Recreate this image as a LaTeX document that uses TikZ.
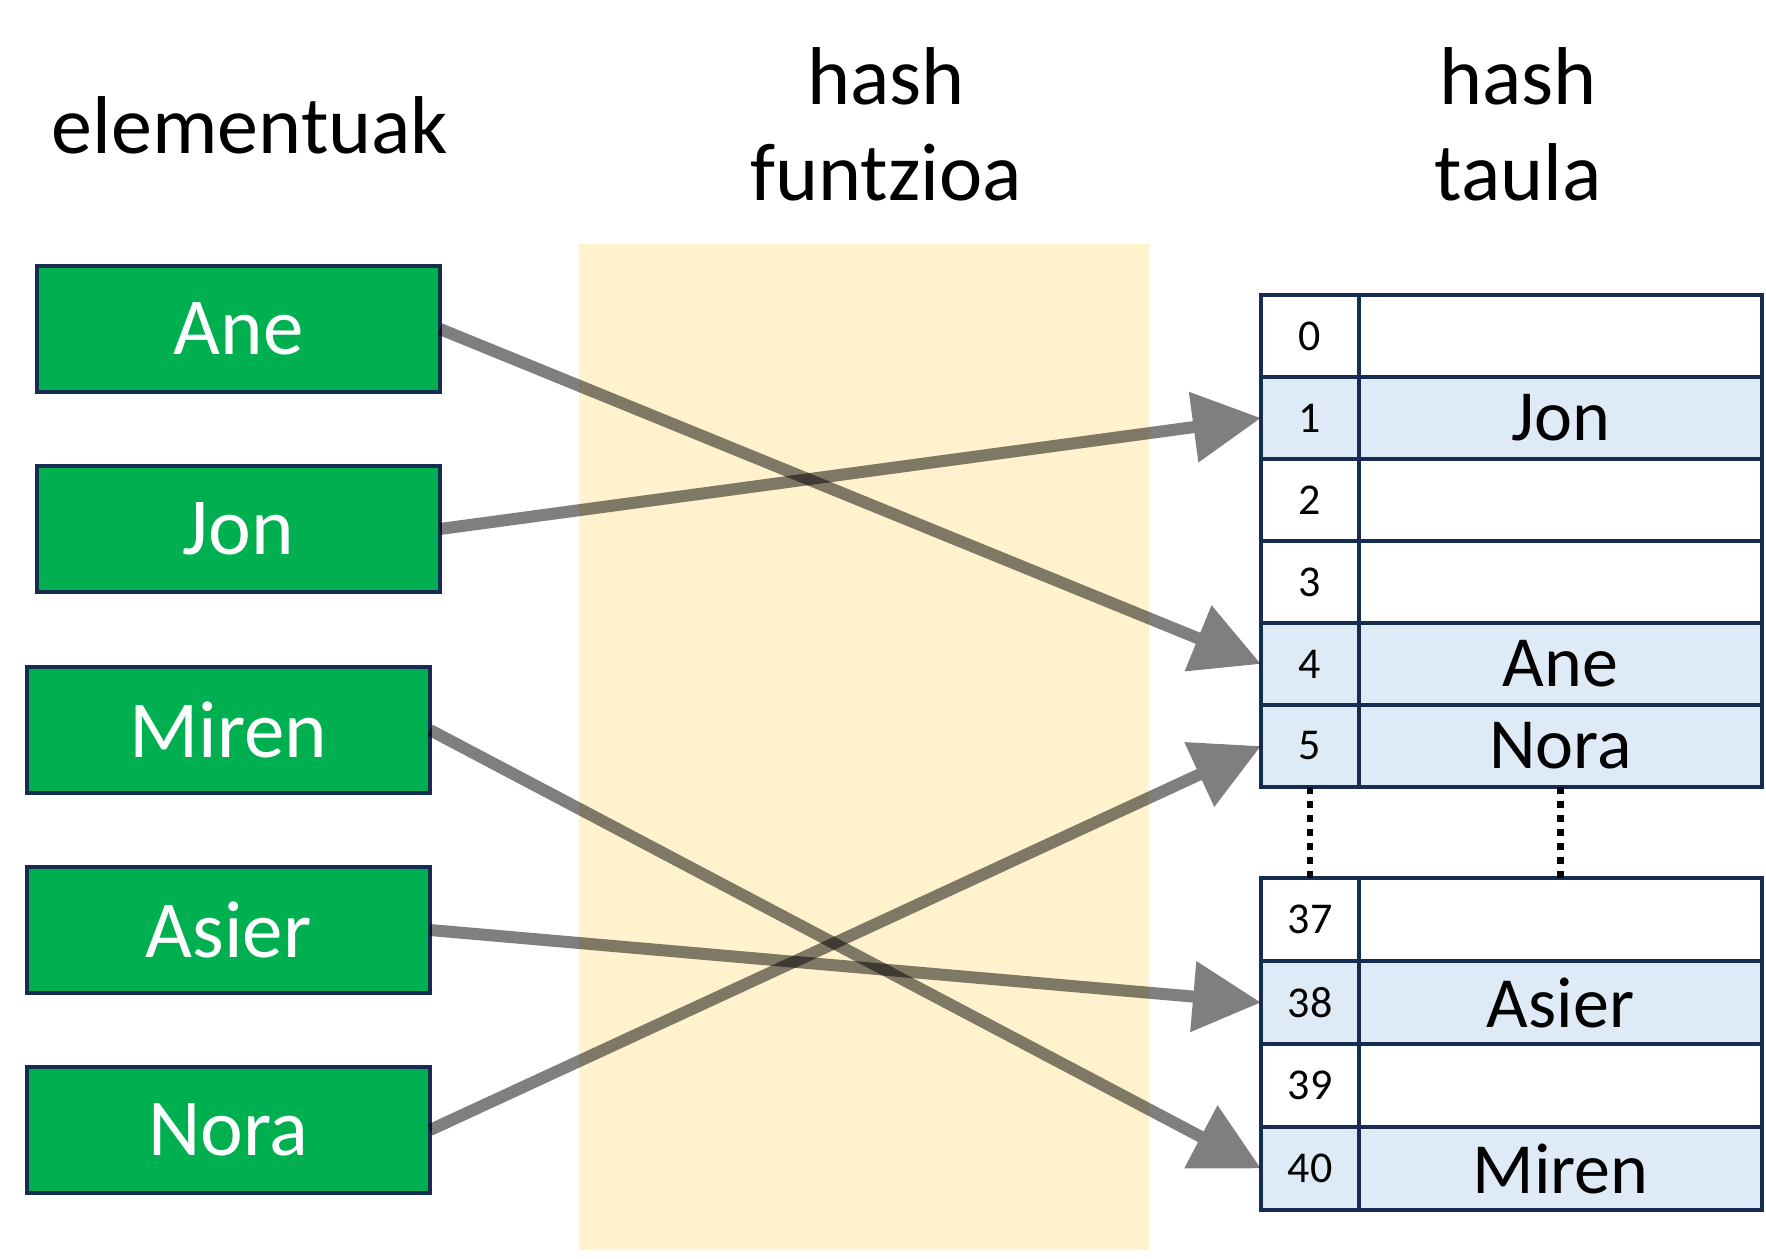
\documentclass[tikz,border=0pt]{standalone}
\usepackage{fontspec}
\setmainfont{Carlito}
\usetikzlibrary{arrows.meta}
\definecolor{boxgreen}{HTML}{00B050}
\definecolor{navy}{HTML}{172C51}
\definecolor{cellblue}{HTML}{DEEBF7}
\definecolor{bandyellow}{HTML}{FFF2CC}
\begin{document}
\begin{tikzpicture}[x=0.5pt,y=-0.5pt,
  elem/.style={draw=navy, line width=2.3pt, fill=boxgreen, text=white,
    minimum width=201.5pt, minimum height=63pt, inner sep=0pt, outer sep=0pt,
    font=\fontsize{40.5}{48}\selectfont},
  title/.style={anchor=base, inner sep=0pt, font=\fontsize{41}{48}\selectfont},
  idx/.style={draw=navy, line width=2.3pt, minimum width=49pt, minimum height=41pt,
    inner sep=0pt, outer sep=0pt, anchor=north west, font=\fontsize{22}{26}\selectfont},
  val/.style={draw=navy, line width=2.3pt, minimum width=201.5pt, minimum height=41pt,
    inner sep=0pt, outer sep=0pt, anchor=north west, font=\fontsize{36}{43}\selectfont},
  low/.style={minimum height=41.5pt},
  full/.style={fill=cellblue},
  arr/.style={line width=6pt, draw=black, fill=black,
    -{Triangle[length=34pt,width=34pt]}},
  arrgroup/.style={transparency group, opacity=0.5},
  dots/.style={line width=3.3pt, dash pattern=on 3.5pt off 3.5pt}
]
\useasboundingbox (0,0) rectangle (1766,1258);
\node[fill=bandyellow, inner sep=0pt, outer sep=0pt, anchor=north west,
  minimum width=285pt, minimum height=503pt] (band) at (579,244) {};

% titles
\node[title] (t1) at (250,153) {elementuak};
\node[title] (t2a) at (886,104) {hash};
\node[title] (t2b) at (886,200) {funtzioa};
\node[title] (t3a) at (1518,104) {hash};
\node[title] (t3b) at (1518,200) {taula};

% elements
\node[elem] (ane) at (238.5,329) {Ane};
\node[elem] (jon) at (238.5,529) {Jon};
\node[elem] (miren) at (228.5,730) {Miren};
\node[elem] (asier) at (228.5,930) {Asier};
\node[elem] (nora) at (228.5,1130) {Nora};

% hash table, upper part
\node[idx] (r0i) at (1261,295) {0};
\node[val] (r0v) at (1359,295) {};
\node[idx,full] (r1i) at (1261,377) {1};
\node[val,full] (r1v) at (1359,377) {Jon};
\node[idx] (r2i) at (1261,459) {2};
\node[val] (r2v) at (1359,459) {};
\node[idx] (r3i) at (1261,541) {3};
\node[val] (r3v) at (1359,541) {};
\node[idx,full] (r4i) at (1261,623) {4};
\node[val,full] (r4v) at (1359,623) {Ane};
\node[idx,full] (r5i) at (1261,705) {5};
\node[val,full] (r5v) at (1359,705) {Nora};

% hash table, lower part
\node[idx,low] (r37i) at (1261,878) {37};
\node[val,low] (r37v) at (1359,878) {};
\node[idx,low,full] (r38i) at (1261,961) {38};
\node[val,low,full] (r38v) at (1359,961) {Asier};
\node[idx,low] (r39i) at (1261,1044) {39};
\node[val,low] (r39v) at (1359,1044) {};
\node[idx,low,full] (r40i) at (1261,1127) {40};
\node[val,low,full] (r40v) at (1359,1127) {Miren};

% gap
\draw[dots] (r5i.south) -- (r37i.north);
\draw[dots] (r5v.south) -- (r37v.north);

% arrows
\begin{scope}[arrgroup]\draw[arr] (ane.east) -- (r4i.west);\end{scope}
\begin{scope}[arrgroup]\draw[arr] (jon.east) -- (r1i.west);\end{scope}
\begin{scope}[arrgroup]\draw[arr] (miren.east) -- (r40i.west);\end{scope}
\begin{scope}[arrgroup]\draw[arr] (asier.east) -- (r38i.west);\end{scope}
\begin{scope}[arrgroup]\draw[arr] (nora.east) -- (r5i.west);\end{scope}
\end{tikzpicture}
\end{document}
